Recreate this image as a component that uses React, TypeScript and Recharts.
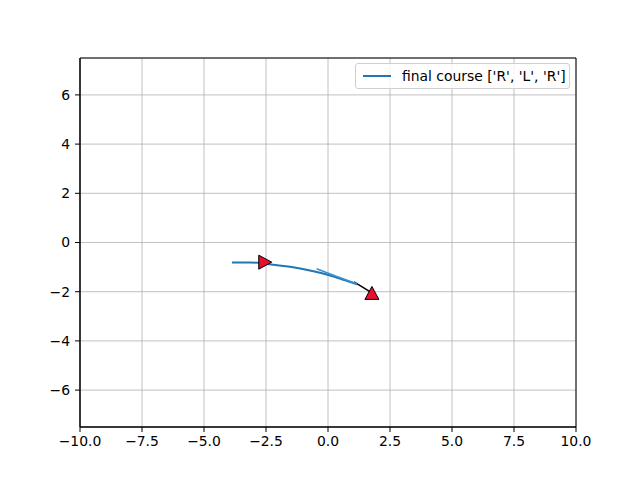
import { ComposedChart, Line, Scatter, XAxis, YAxis, CartesianGrid, ReferenceArea } from 'recharts'

const xTicks = [-10, -7.5, -5, -2.5, 0, 2.5, 5, 7.5, 10]
const yTicks = [-6, -4, -2, 0, 2, 4, 6]

// final course
const courseX = [-3.87, -3.15, -2.46, -1.53, -0.73, 0.08, 0.69, 1.17]
const courseY = [-0.81, -0.81, -0.87, -0.99, -1.14, -1.34, -1.54, -1.7]

// short overlapping piece of the turn
const turnX = [-0.46, 0.3, 1.16]
const turnY = [-1.07, -1.36, -1.68]

// last leg to the goal
const legX = [1.05, 1.72]
const legY = [-1.6, -2.02]

const startPos = { x: -2.55, y: -0.8 }
const goalPos = { x: 1.77, y: -2.07 }

const course = courseX.map((x, i) => ({ x, y: courseY[i] }))
const turn = turnX.map((x, i) => ({ x, y: turnY[i] }))
const leg = legX.map((x, i) => ({ x, y: legY[i] }))

const legendLabel = "final course ['R', 'L', 'R']"

const font = 'DejaVu Sans, sans-serif'
const minus = (s: string) => s.replace('-', '\u2212')

function RightTriangle(props: any) {
  const { cx, cy } = props
  return (
    <polygon
      points={`${cx - 6},${cy - 7} ${cx + 7},${cy} ${cx - 6},${cy + 7}`}
      fill="#e4102e" stroke="#000" strokeWidth={1}
    />
  )
}

function UpTriangle(props: any) {
  const { cx, cy } = props
  return (
    <polygon
      points={`${cx},${cy - 7} ${cx + 7},${cy + 6} ${cx - 7},${cy + 6}`}
      fill="#e4102e" stroke="#000" strokeWidth={1}
    />
  )
}

function LegendBox() {
  return (
    <div style={{
      position: 'absolute', top: 63, left: 355,
      border: '1px solid #d0d0d0', borderRadius: 3, background: 'rgba(255,255,255,0.8)',
      width: 215, height: 26, display: 'flex', alignItems: 'center', boxSizing: 'border-box',
      fontFamily: font, fontSize: 13.9, color: '#000',
    }}>
      <span style={{ display: 'inline-block', width: 28, height: 2, background: '#1f77b4', marginLeft: 7, marginRight: 11 }} />
      <span>{legendLabel}</span>
    </div>
  )
}

export default function App() {
  return (
    <div style={{ position: 'absolute', left: 0, top: 0, width: 640, height: 480, background: '#fff' }}>
      <ComposedChart width={640} height={480} margin={{ top: 58, right: 64, bottom: 23, left: 40 }}>
        <CartesianGrid stroke="#b0b0b0" strokeWidth={0.8} />
        <XAxis
          type="number" dataKey="x" domain={[-10, 10]} ticks={xTicks} height={30}
          allowDataOverflow tickSize={5} tickMargin={4}
          tickFormatter={(v: number) => minus(v.toFixed(1))}
          tick={{ fill: '#000', fontSize: 13.9, fontFamily: font }}
          axisLine={{ stroke: '#000' }} tickLine={{ stroke: '#000' }}
        />
        <YAxis
          type="number" dataKey="y" domain={[-7.5, 7.5]} ticks={yTicks} width={40}
          allowDataOverflow tickSize={5} tickMargin={5}
          tickFormatter={(v: number) => minus(String(v))}
          tick={{ fill: '#000', fontSize: 13.9, fontFamily: font }}
          axisLine={{ stroke: '#000' }} tickLine={{ stroke: '#000' }}
        />
        <ReferenceArea x1={-10} x2={10} y1={-7.5} y2={7.5} fill="none" stroke="#000" strokeWidth={1} />
        <Line data={leg} dataKey="y" stroke="#000" strokeWidth={1.5} dot={false} isAnimationActive={false} />
        <Line data={course} dataKey="y" type="monotone" stroke="#1f77b4" strokeWidth={2} dot={false} isAnimationActive={false} name={legendLabel} />
        <Line data={turn} dataKey="y" stroke="#3a8fd0" strokeWidth={1.5} dot={false} isAnimationActive={false} />
        <Scatter data={[startPos]} shape={RightTriangle} isAnimationActive={false} />
        <Scatter data={[goalPos]} shape={UpTriangle} isAnimationActive={false} />
      </ComposedChart>
      <LegendBox />
    </div>
  )
}
